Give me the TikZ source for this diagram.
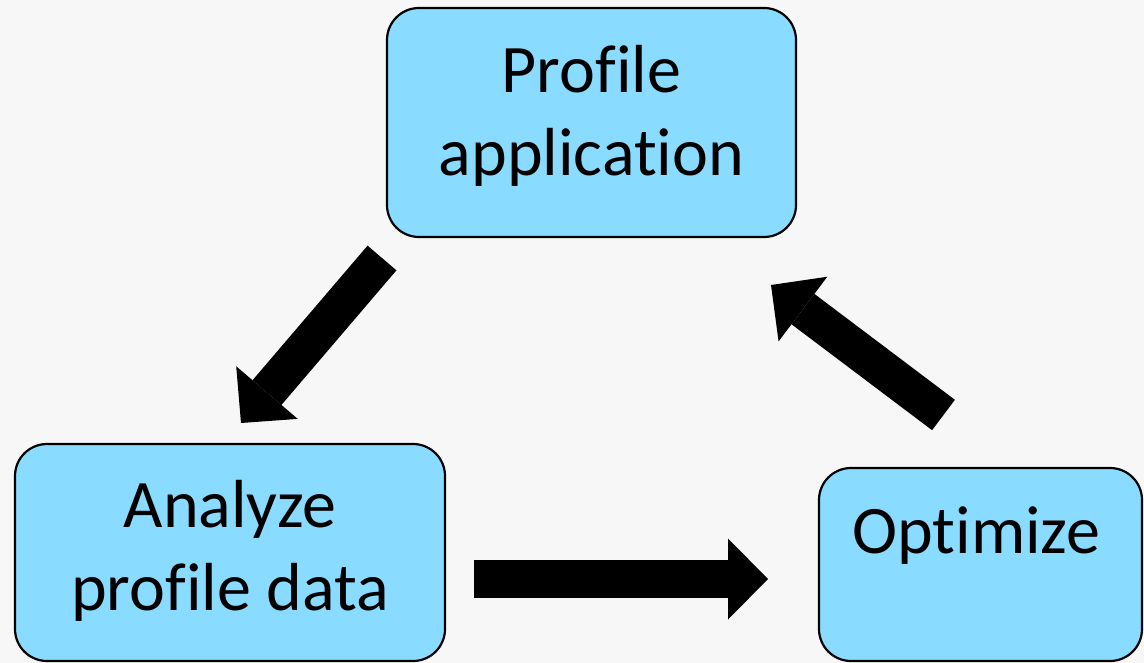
\documentclass[tikz,border=0pt]{standalone}
\usepackage{fontspec}
\setmainfont{Carlito}[Ligatures=NoCommon]
\usetikzlibrary{arrows.meta}
\definecolor{bg}{HTML}{F7F7F7}
\definecolor{boxblue}{HTML}{89DBFF}
\begin{document}
\begin{tikzpicture}[x=1pt,y=-1pt,
  stage/.style={draw=black, line width=2.2pt, fill=boxblue, rounded corners=32pt, inner sep=0pt},
  caption/.style={font=\fontsize{68}{83}\selectfont, anchor=base, inner sep=0pt, align=center},
  blockarrow/.style={draw=black, line width=38pt,
    -{Triangle[width=81pt,length=40pt,line width=0pt]}}]
  % canvas
  \fill[bg] (0,0) rectangle (1144,663);
  \useasboundingbox (0,0) rectangle (1144,663);

  % the three stages of the cycle
  \node[stage, minimum width=409pt, minimum height=229pt] (profile) at (591.5,122.5) {};
  \node[stage, minimum width=430pt, minimum height=217pt] (analyze) at (230,552.5) {};
  \node[stage, minimum width=323pt, minimum height=193pt] (optimize) at (980.5,564.5) {};

  % captions (base anchor = baseline of the last line)
  \node[caption] (profiletxt) at (591.5,176) {Profile\\application};
  \node[caption] (analyzetxt) at (230,610) {Analyze\\profile data};
  \node[caption, anchor=base west] (optimizetxt) at (852,553) {Optimize};

  % block arrows between the stages
  \coordinate (p2a-s) at (382,258);
  \coordinate (p2a-e) at (241,423);
  \coordinate (a2o-s) at (474,579);
  \coordinate (a2o-e) at (768,579);
  \coordinate (o2p-s) at (943.5,415);
  \coordinate (o2p-e) at (771,285);

  \draw[blockarrow] (p2a-s) -- (p2a-e);
  \draw[blockarrow] (a2o-s) -- (a2o-e);
  \draw[blockarrow] (o2p-s) -- (o2p-e);
\end{tikzpicture}
\end{document}
